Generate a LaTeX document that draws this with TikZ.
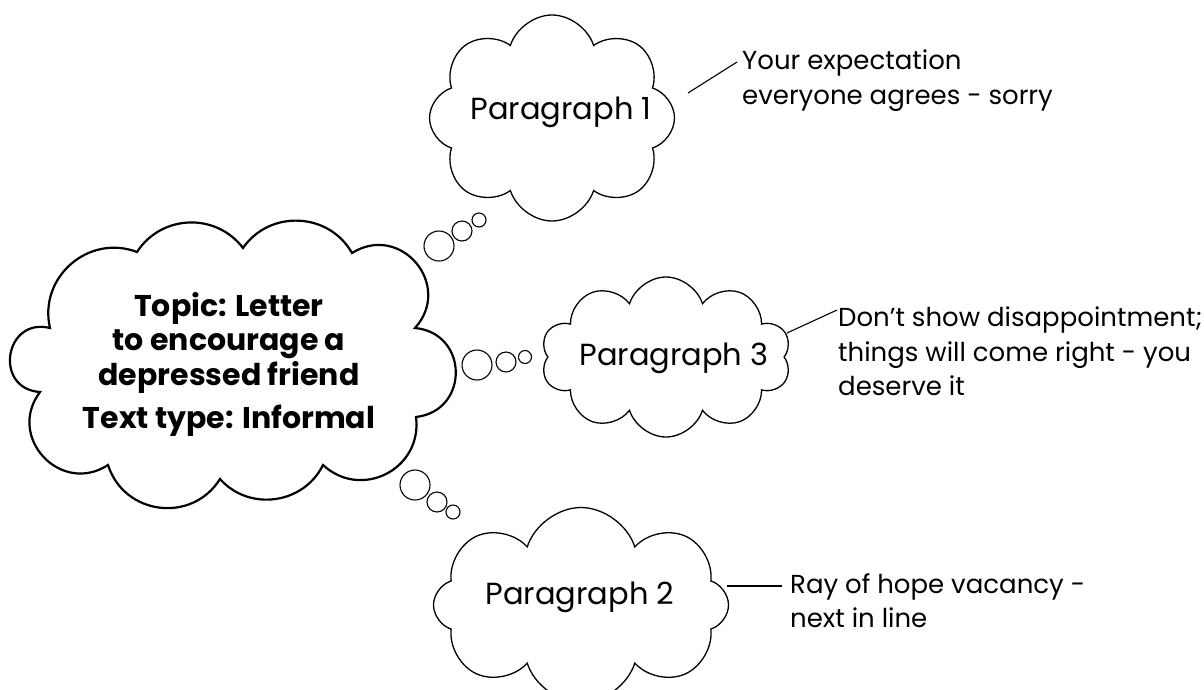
\documentclass[tikz,border=0pt]{standalone}
\usepackage{fontspec}
\setmainfont{Poppins}
\usetikzlibrary{shapes.symbols}
\begin{document}
\begin{tikzpicture}[x=1pt,y=-1pt,
  cloudbox/.style={cloud, draw, line width=1.3pt, cloud ignores aspect, cloud puff arc=145, inner sep=0pt},
  mainline/.style={draw, line width=2.2pt, line join=miter},
  bump/.style 2 args={bend left=#1, looseness=#2},
  bubble/.style={circle, draw, line width=1.1pt, inner sep=0pt},
  para/.style={font=\fontsize{30.5}{34}\selectfont, inner sep=0pt},
  note/.style={align=left, anchor=north west, font=\fontsize{26}{34.5}\selectfont, inner sep=0pt},
  link/.style={line width=1.1pt}]
\useasboundingbox (0,0) rectangle (1204,689);
% main cloud outline
\coordinate (c1) at (137,252);
\coordinate (c2) at (243,248);
\coordinate (c3) at (352,253);
\coordinate (c4) at (415,328);
\coordinate (c5) at (416,417);
\coordinate (c6) at (323,465);
\coordinate (c7) at (220,479);
\coordinate (c8) at (108,465);
\coordinate (c9) at (40,392);
\coordinate (c10) at (50,328);
\path[mainline] (c1) to[bump={55}{1.08}] (c2) to[bump={58}{1.1}] (c3)
  to[bump={82}{1.5}] (c4) to[bump={84}{1.55}] (c5) to[bump={70}{1.28}] (c6)
  to[bump={56}{1.08}] (c7) to[bump={65}{1.2}] (c8) to[bump={80}{1.45}] (c9)
  to[bump={95}{1.85}] (c10) to[bump={62}{1.15}] (c1) -- cycle;
\node[align=center, font=\bfseries\fontsize{30}{34.5}\selectfont, inner sep=0pt] (maintext) at (229,364)
  {Topic: Letter\\to encourage a\\depressed friend\\[8.5pt]Text type: Informal};
% paragraph clouds
\node[cloudbox, cloud puffs=8, minimum width=245pt, minimum height=206pt] (p1) at (552,118) {};
\node[para] (p1label) at (561,112) {Paragraph 1};
\node[cloudbox, cloud puffs=10, minimum width=250pt, minimum height=160pt] (p3) at (666,357) {};
\node[para] (p3label) at (674,358) {Paragraph 3};
\node[cloudbox, cloud puffs=8, minimum width=295pt, minimum height=195pt] (p2) at (581,605) {};
\node[para] (p2label) at (580,597) {Paragraph 2};
% thought bubbles
\node[bubble, minimum size=30pt] (b1a) at (439,246) {};
\node[bubble, minimum size=20pt] (b1b) at (462,231) {};
\node[bubble, minimum size=14pt] (b1c) at (479,220) {};
\node[bubble, minimum size=30pt] (b3a) at (477,365) {};
\node[bubble, minimum size=20pt] (b3b) at (506,362) {};
\node[bubble, minimum size=13pt] (b3c) at (525,357) {};
\node[bubble, minimum size=30pt] (b2a) at (415,485) {};
\node[bubble, minimum size=20pt] (b2b) at (437,502) {};
\node[bubble, minimum size=14pt] (b2c) at (453,512) {};
% notes
\node[note] (n1) at (742,50) {Your expectation\\everyone agrees - sorry};
\node[note] (n3) at (838,307) {Don't show disappointment;\\things will come right - you\\deserve it};
\node[note] (n2) at (790,573) {Ray of hope vacancy -\\next in line};
% connectors
\coordinate (l1a) at (688,93);
\coordinate (l1b) at (737,62);
\coordinate (l3a) at (787,333);
\coordinate (l3b) at (837,310);
\coordinate (l2a) at (727,586);
\coordinate (l2b) at (782,586);
\draw[link] (l1a) -- (l1b);
\draw[link] (l3a) -- (l3b);
\draw[link] (l2a) -- (l2b);
\end{tikzpicture}
\end{document}
